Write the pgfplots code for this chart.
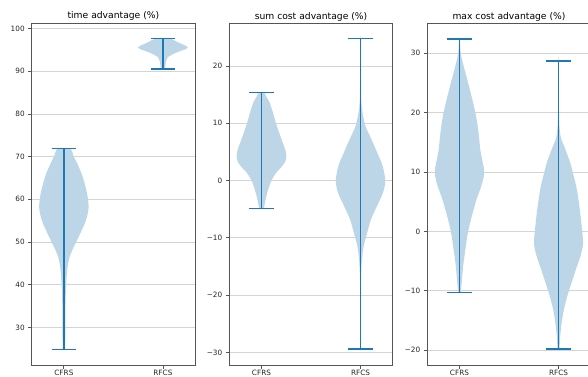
\documentclass[border=0pt]{standalone}
\usepackage{fontspec}
\setmainfont{DejaVu Sans}
\usepackage{pgfplots}
\pgfplotsset{compat=1.18}
\usepackage{pgfplotstable}
\definecolor{C0}{HTML}{1F77B4}
\definecolor{vfill}{HTML}{BCD6E8}
\definecolor{gridc}{HTML}{D4D4D4}
\definecolor{framec}{HTML}{555555}

% violin outlines: y value, signed relative half-width (1 = 0.25 x units)
\pgfplotstableread{
y w
24.85 0.05
29.3 0.06
34.0 0.06
38.7 0.08
42.6 0.12
44.6 0.16
46.5 0.23
48.5 0.37
50.4 0.53
52.5 0.70
54.3 0.84
56.3 0.95
58.2 1.00
60.2 0.97
62.1 0.91
64.1 0.82
66.1 0.71
68.0 0.57
70.0 0.40
71.85 0.25
71.85 -0.25
70.0 -0.40
68.0 -0.57
66.1 -0.71
64.1 -0.82
62.1 -0.91
60.2 -0.97
58.2 -1.00
56.3 -0.95
54.3 -0.84
52.5 -0.70
50.4 -0.53
48.5 -0.37
46.5 -0.23
44.6 -0.16
42.6 -0.12
38.7 -0.08
34.0 -0.06
29.3 -0.06
24.85 -0.05
}\timeCFRS
\pgfplotstableread{
y w
90.55 0.08
91.3 0.10
92.1 0.12
92.7 0.15
93.3 0.20
93.6 0.28
94.0 0.40
94.4 0.56
94.8 0.74
95.2 0.93
95.6 1.00
96.0 0.91
96.8 0.60
97.7 0.27
97.7 -0.27
96.8 -0.60
96.0 -0.91
95.6 -1.00
95.2 -0.93
94.8 -0.74
94.4 -0.56
94.0 -0.40
93.6 -0.28
93.3 -0.20
92.7 -0.15
92.1 -0.12
91.3 -0.10
90.55 -0.08
}\timeRFCS
\pgfplotstableread{
y w
-4.9 0.10
-3.8 0.14
-2.0 0.24
-0.3 0.37
0.6 0.48
1.4 0.60
2.0 0.73
2.6 0.85
3.3 0.96
4.1 1.00
4.9 0.99
5.8 0.93
6.7 0.85
8.4 0.71
10.2 0.57
11.9 0.46
13.7 0.32
14.6 0.20
15.4 0.10
15.4 -0.10
14.6 -0.20
13.7 -0.32
11.9 -0.46
10.2 -0.57
8.4 -0.71
6.7 -0.85
5.8 -0.93
4.9 -0.99
4.1 -1.00
3.3 -0.96
2.6 -0.85
2.0 -0.73
1.4 -0.60
0.6 -0.48
-0.3 -0.37
-2.0 -0.24
-3.8 -0.14
-4.9 -0.10
}\sumCFRS
\pgfplotstableread{
y w
-29.4 0.01
-20.0 0.01
-16.1 0.03
-13.7 0.06
-11.4 0.13
-9.1 0.27
-6.8 0.42
-4.4 0.67
-2.1 0.91
0.0 1.00
2.6 0.89
4.9 0.67
7.2 0.44
9.5 0.20
11.9 0.08
14.2 0.03
20.0 0.015
24.8 0.01
24.8 -0.01
20.0 -0.015
14.2 -0.03
11.9 -0.08
9.5 -0.20
7.2 -0.44
4.9 -0.67
2.6 -0.89
0.0 -1.00
-2.1 -0.91
-4.4 -0.67
-6.8 -0.42
-9.1 -0.27
-11.4 -0.13
-13.7 -0.06
-16.1 -0.03
-20.0 -0.01
-29.4 -0.01
}\sumRFCS
\pgfplotstableread{
y w
-10.3 0.05
-8.6 0.09
-5.8 0.15
-3.0 0.24
-0.2 0.34
2.6 0.50
5.4 0.69
7.6 0.88
8.8 0.96
9.9 1.00
11.0 0.97
12.4 0.90
13.8 0.84
16.6 0.77
19.4 0.67
22.2 0.52
25.0 0.35
27.8 0.17
30.1 0.05
32.4 0.02
32.4 -0.02
30.1 -0.05
27.8 -0.17
25.0 -0.35
22.2 -0.52
19.4 -0.67
16.6 -0.77
13.8 -0.84
12.4 -0.90
11.0 -0.97
9.9 -1.00
8.8 -0.96
7.6 -0.88
5.4 -0.69
2.6 -0.50
-0.2 -0.34
-3.0 -0.24
-5.8 -0.15
-8.6 -0.09
-10.3 -0.05
}\maxCFRS
\pgfplotstableread{
y w
-19.8 0.04
-17.6 0.07
-15.3 0.13
-13.1 0.22
-10.8 0.36
-8.6 0.53
-6.3 0.71
-4.1 0.89
-1.9 0.99
1.5 0.92
4.3 0.84
7.1 0.74
9.4 0.61
11.6 0.47
13.9 0.27
16.1 0.08
20.0 0.02
28.7 0.01
28.7 -0.01
20.0 -0.02
16.1 -0.08
13.9 -0.27
11.6 -0.47
9.4 -0.61
7.1 -0.74
4.3 -0.84
1.5 -0.92
-1.9 -0.99
-4.1 -0.89
-6.3 -0.71
-8.6 -0.53
-10.8 -0.36
-13.1 -0.22
-15.3 -0.13
-17.6 -0.07
-19.8 -0.04
}\maxRFCS

% #1 table, #2 pos, #3 cap left, #4 cap right, #5 min, #6 max
\newcommand{\violin}[6]{%
  \addplot[fill=vfill, draw=none, smooth, forget plot] table[x expr={#2+0.25*\thisrow{w}}, y=y] {#1} -- cycle;
  \addplot[C0, line width=1.3pt, forget plot] coordinates {(#2,#5) (#2,#6)};
  \addplot[C0, line width=1.3pt, forget plot] coordinates {(#3,#5) (#4,#5)};
  \addplot[C0, line width=1.3pt, forget plot] coordinates {(#3,#6) (#4,#6)};
}

\pgfplotsset{
  vstyle/.style={
    scale only axis, width=163.4pt, height=342pt,
    xmin=0.675, xmax=2.325,
    xtick={1,2}, xticklabels={CFRS,RFCS},
    tick pos=left, tick align=outside, major tick length=3.5pt,
    ymajorgrids, grid style={gridc, line width=0.8pt},
    axis line style={framec, line width=0.8pt},
    every tick/.style={framec, line width=0.8pt},
    ticklabel style={font=\fontsize{7.3}{8}\selectfont, text=black!85},
    xticklabel style={yshift=1.8pt},
    title style={font=\fontsize{9.2}{10}\selectfont, anchor=base, yshift=-2pt, inner sep=0pt},
    /pgf/number format/assume math mode=true,
    anchor=south west,
  }
}

\begin{document}
\begin{tikzpicture}
\begin{axis}[vstyle, at={(31.7pt,11pt)},
  title={time advantage (\%)},
  ymin=21.2, ymax=101.3, ytick={30,40,50,60,70,80,90,100}]
\violin{\timeCFRS}{1}{0.875}{1.125}{24.85}{71.85}
\violin{\timeRFCS}{2}{1.875}{2.125}{90.55}{97.7}
\end{axis}

\begin{axis}[vstyle, at={(229.3pt,11pt)},
  title={sum cost advantage (\%)},
  ymin=-32.2, ymax=27.5, ytick={-30,-20,-10,0,10,20},
  yticklabels={−30,−20,−10,0,10,20}]
\violin{\sumCFRS}{1}{0.875}{1.125}{-4.9}{15.4}
\violin{\sumRFCS}{2}{1.875}{2.125}{-29.4}{24.8}
\end{axis}

\begin{axis}[vstyle, at={(427.3pt,11pt)},
  title={max cost advantage (\%)},
  ymin=-22.5, ymax=35.1, ytick={-20,-10,0,10,20,30},
  yticklabels={−20,−10,0,10,20,30}]
\violin{\maxCFRS}{1}{0.875}{1.125}{-10.3}{32.4}
\violin{\maxRFCS}{2}{1.875}{2.125}{-19.8}{28.7}
\end{axis}
\pgfresetboundingbox
\path[use as bounding box] (0,0) rectangle (588pt,376pt);
\end{tikzpicture}
\end{document}
